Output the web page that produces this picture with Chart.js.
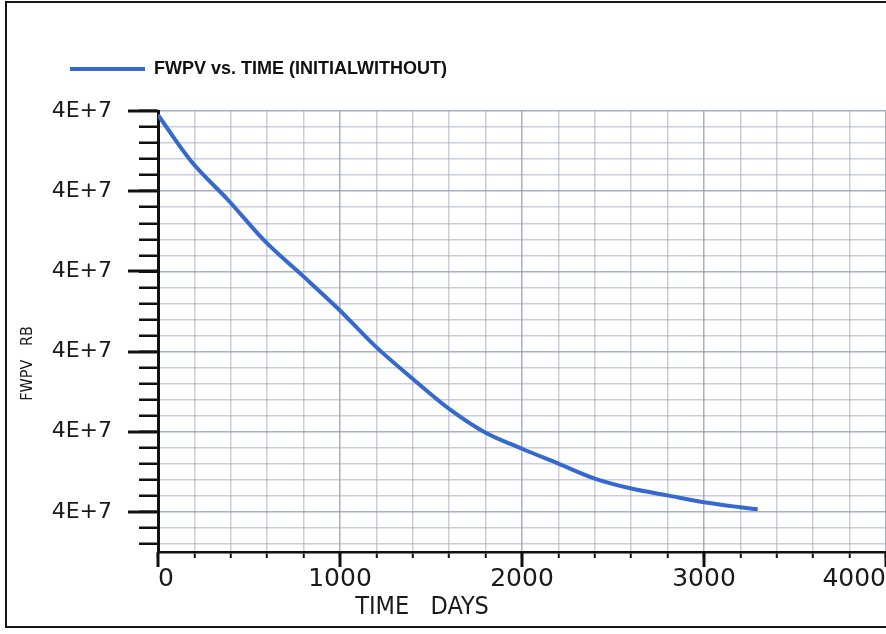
<!DOCTYPE html>
<html>
<head>
<meta charset="utf-8">
<script src="https://cdn.jsdelivr.net/npm/chart.js@4.4.1/dist/chart.umd.min.js"></script>
<style>
    html, body { margin: 0; padding: 0; background: #fff; overflow: hidden; }
    #wrap { position: relative; width: 886px; height: 634px; }
    #frame {
        position: absolute; left: 5px; top: 1px; width: 1000px; height: 623px;
        border: 2px solid #161616; border-right: none;
    }
    #box { position: absolute; left: 0; top: 0; width: 886px; height: 634px; }
</style>
</head>
<body>
<div id="wrap">
    <div id="frame"></div>
    <div id="box"><canvas id="lineChart"></canvas></div>
</div>
<script>
// Du lieu doc tu hinh
const timeDays = [0, 180, 385, 590, 790, 990, 1195, 1415, 1600, 1800, 2000, 2200, 2400, 2600, 2800, 3000, 3200, 3295];
const fwpvRb = [42475000, 42190000, 41945000, 41685000, 41478000, 41267000, 41032000, 40815000, 40642000,
    40493000, 40394000, 40301000, 40208000, 40146000, 40103000, 40060000, 40029000, 40016000];

// Truc
const xMin = 0, xMax = 4000, xStep = 200, xMajor = 1000;
const yMin = 39750000, yMax = 42500000, yStep = 100000, yMajor = 500000;

const seriesLabel = 'FWPV vs. TIME (INITIALWITHOUT)';
const xTitle = 'TIME   DAYS';
const yTitle = 'FWPV   RB';

const points = timeDays.map((t, i) => ({ x: t, y: fwpvRb[i] }));

const isMajorX = (v) => Math.round(v) % xMajor === 0;
const isMajorY = (v) => Math.round(v) % yMajor === 0;

// Danh sach vach chia
function tickList(from, to, step) {
    const list = [];
    for (let v = from; v <= to; v += step) list.push({ value: v });
    return list;
}

// Vach chia chinh dai hon
const majorTicks = {
    id: 'majorTicks',
    afterDraw(chart) {
        const ctx = chart.ctx;
        const xs = chart.scales.x, ys = chart.scales.y;
        const area = chart.chartArea;
        ctx.save();
        ctx.strokeStyle = '#111';
        ctx.lineWidth = 3;
        ys.ticks.forEach((t) => {
            if (!isMajorY(t.value)) return;
            const py = Math.round(ys.getPixelForValue(t.value));
            ctx.beginPath();
            ctx.moveTo(area.left - 30, py);
            ctx.lineTo(area.left, py);
            ctx.stroke();
        });
        xs.ticks.forEach((t) => {
            if (!isMajorX(t.value)) return;
            const px = Math.round(xs.getPixelForValue(t.value));
            ctx.beginPath();
            ctx.moveTo(px, area.bottom);
            ctx.lineTo(px, area.bottom + 15);
            ctx.stroke();
        });
        ctx.restore();
    }
};

// Dat chu thich o goc trai
const legendPos = {
    id: 'legendPos',
    afterLayout(chart) {
        chart.legend.left = 60;
        chart.legend.top = 50;
    }
};

const config = {
    type: 'line',
    data: {
        datasets: [{
            label: seriesLabel,
            data: points,
            borderColor: '#3569d0',
            backgroundColor: '#3569d0',
            borderWidth: 4,
            pointRadius: 0,
            fill: false,
            cubicInterpolationMode: 'monotone'
        }]
    },
    options: {
        responsive: true,
        maintainAspectRatio: false,
        animation: false,
        layout: { autoPadding: false, padding: { top: 73, left: 0, right: 0, bottom: 0 } },
        plugins: {
            tooltip: { enabled: false },
            legend: {
                display: true,
                position: 'top',
                align: 'start',
                labels: {
                    usePointStyle: true,
                    pointStyle: 'line',
                    pointStyleWidth: 75,
                    padding: 10,
                    color: '#111',
                    font: { family: "'Liberation Sans', Arial, sans-serif", size: 18, weight: 'bold' }
                }
            }
        },
        scales: {
            x: {
                type: 'linear',
                min: xMin,
                max: xMax,
                afterBuildTicks: (scale) => { scale.ticks = tickList(xMin, xMax, xStep); },
                afterFit: (scale) => {
                    scale.height = 82;
                    scale.paddingLeft = 0;
                    scale.paddingRight = 0;
                },
                border: { display: true, color: '#111', width: 2.5 },
                grid: {
                    color: (c) => isMajorX(c.tick.value) ? 'rgba(140,148,178,0.75)' : 'rgba(160,166,192,0.55)',
                    lineWidth: 1.5,
                    tickColor: '#111',
                    tickWidth: 2,
                    tickLength: 6
                },
                ticks: {
                    autoSkip: false,
                    maxRotation: 0,
                    align: 'inner',
                    padding: 6,
                    color: '#1a1a1a',
                    font: { family: "'DejaVu Sans', sans-serif", size: 25 },
                    callback: (v) => isMajorX(v) ? String(v) : ''
                },
                title: {
                    display: true,
                    text: xTitle + ' '.repeat(28),
                    color: '#1a1a1a',
                    padding: { top: 0, bottom: 12 },
                    font: { family: "'Liberation Sans Narrow', 'DejaVu Sans Condensed', sans-serif", size: 25 }
                }
            },
            y: {
                type: 'linear',
                min: yMin,
                max: yMax,
                afterBuildTicks: (scale) => { scale.ticks = tickList(yMin + 50000, yMax, yStep); },
                afterFit: (scale) => { scale.width = 158; },
                border: { display: true, color: '#111', width: 3 },
                grid: {
                    color: (c) => isMajorY(c.tick.value) ? 'rgba(140,148,178,0.75)' : 'rgba(160,166,192,0.55)',
                    lineWidth: 1.5,
                    tickColor: '#111',
                    tickWidth: 2.5,
                    tickLength: 19
                },
                ticks: {
                    autoSkip: false,
                    padding: 27,
                    color: '#1a1a1a',
                    font: { family: "'DejaVu Sans', sans-serif", size: 22 },
                    callback: (v) => isMajorY(v) ? Number(v).toExponential(0).toUpperCase() : ''
                },
                title: {
                    display: true,
                    text: yTitle + ' '.repeat(14),
                    color: '#1a1a1a',
                    padding: { top: 18, bottom: 0 },
                    font: { family: "'Liberation Sans Narrow', 'DejaVu Sans Condensed', sans-serif", size: 16 }
                }
            }
        }
    },
    plugins: [majorTicks, legendPos]
};

const lineChart = new Chart(document.getElementById('lineChart'), config);
</script>
</body>
</html>
